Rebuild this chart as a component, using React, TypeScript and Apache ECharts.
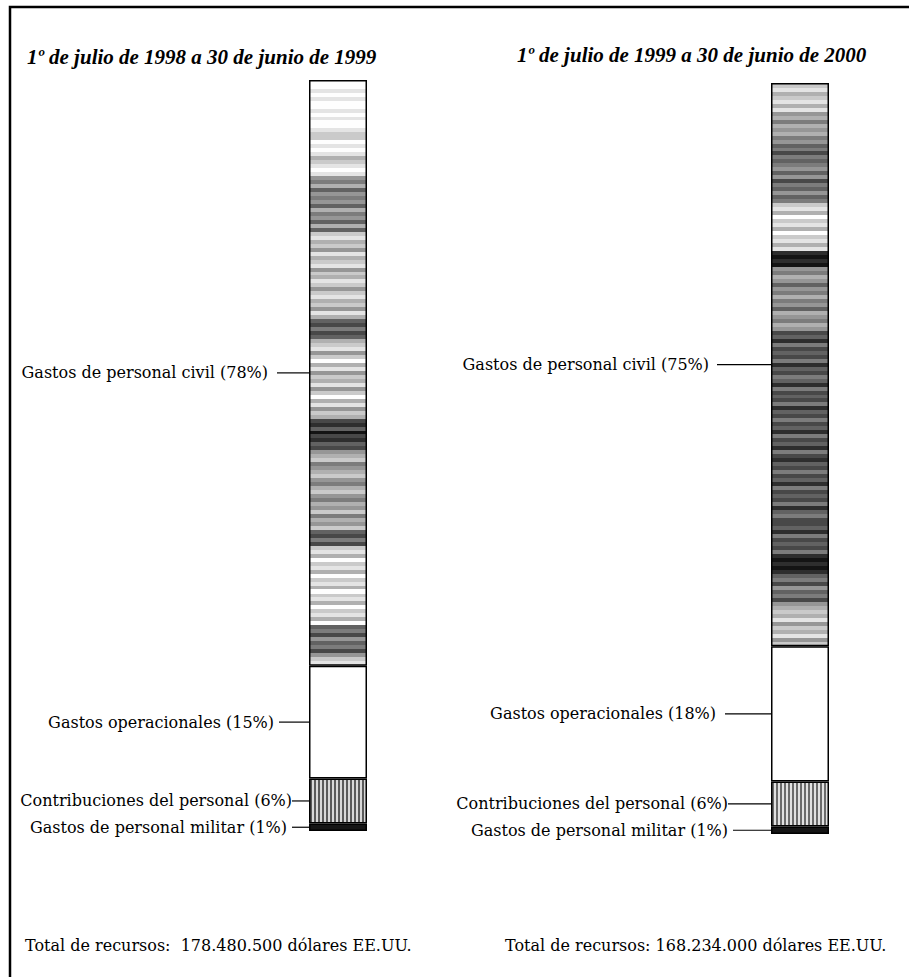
import React, { useEffect, useRef } from 'react';
import * as echarts from 'echarts';

const periods = [
  '1º de julio de 1998 a 30 de junio de 1999',
  '1º de julio de 1999 a 30 de junio de 2000',
];
// bottom to top
const segments = [
  'Gastos de personal militar',
  'Contribuciones del personal',
  'Gastos operacionales',
  'Gastos de personal civil',
];
const shares1998 = [1, 6, 15, 78];
const shares1999 = [1, 6, 18, 75];
const totals = ['Total de recursos:  178.480.500 dólares EE.UU.', 'Total de recursos: 168.234.000 dólares EE.UU.'];

// texture patterns (grey level per 4px row, 0 = black, 9 = white) – styling only
const tex1998 =
  '9989899898998' + '77989867898' + '54635453645363' + '7867586785768757867586' + '32423' +
  '67857968576857968576' + '21302132' + '56745675467546574657' + '3242' + '78697869786978697869' +
  '34253425' + '78';
const tex1999 =
  '7867868' + '56465645' + '34243' + '4535243534' + '786978697868' + '1010' + '5465354645365465' +
  '2314232413243142' + '3241324231423142' + '1324231423241342' + '231423241' + '0101' + '34253425' +
  '6768576857';

function bandGradient(pattern: string) {
  const stops: { offset: number; color: string }[] = [];
  const n = pattern.length;
  for (let i = 0; i < n; i++) {
    const lv = Number(pattern[i]);
    const g = Math.round(20 + lv * 26);
    const c = `rgb(${g},${g},${g})`;
    stops.push({ offset: i / n, color: c }, { offset: (i + 1) / n, color: c });
  }
  return new echarts.graphic.LinearGradient(0, 0, 0, 1, stops);
}

function stripeGradient(n: number, dark: string, light: string) {
  const stops: { offset: number; color: string }[] = [];
  for (let i = 0; i < n; i++) {
    const c = i % 2 === 0 ? dark : light;
    stops.push({ offset: i / n, color: c }, { offset: (i + 1) / n, color: c });
  }
  return new echarts.graphic.LinearGradient(0, 0, 1, 0, stops);
}

export default function App() {
  const ref = useRef<HTMLDivElement>(null);
  useEffect(() => {
    document.body.style.margin = '0';
    const chart = echarts.init(ref.current!, null, { renderer: 'svg' });
    const shares = [shares1998, shares1999];
    const fills = [
      ['#151515', stripeGradient(28, '#5a5a5a', '#d8d8d8'), '#ffffff', bandGradient(tex1998)],
      ['#151515', stripeGradient(28, '#6a6a6a', '#e0e0e0'), '#ffffff', bandGradient(tex1999)],
    ];
    const leaders = [
      [[5, 17], [0, 17], [5, 30], [9, 32]],
      [[5, 38], [0, 43], [9, 46], [8, 54]],
    ];
    const series: any[] = [];
    for (let p = 0; p < 2; p++) {
      for (let s = 0; s < segments.length; s++) {
        const v = shares[p][s];
        series.push({
          type: 'bar',
          name: segments[s],
          xAxisIndex: p,
          yAxisIndex: p,
          stack: 'p' + p,
          barWidth: '100%',
          data: [
            {
              value: v,
              itemStyle: { color: fills[p][s], borderColor: '#000', borderWidth: 1.5 },
              label: {
                show: true,
                position: 'left',
                distance: 0,
                formatter: `{t|${segments[s]} (${v}%)}{g| }{l| }`,
                rich: {
                  t: { fontFamily: 'DejaVu Serif', fontSize: 16, color: '#000' },
                  g: { width: leaders[p][s][0] },
                  l: { width: leaders[p][s][1], height: 1.2, backgroundColor: '#000' },
                },
              },
            },
          ],
        });
      }
    }
    chart.setOption({
      animation: false,
      grid: [
        { left: 309, top: 80, width: 58, height: 751 },
        { left: 771, top: 83, width: 58, height: 751 },
      ],
      xAxis: [
        { type: 'category', gridIndex: 0, data: [periods[0]], show: false },
        { type: 'category', gridIndex: 1, data: [periods[1]], show: false },
      ],
      yAxis: [
        { type: 'value', gridIndex: 0, min: 0, max: 100, show: false },
        { type: 'value', gridIndex: 1, min: 0, max: 100, show: false },
      ],
      series,
      graphic: [
        {
          type: 'polyline',
          shape: { points: [[10, 1000], [10, 7], [909, 7]] },
          style: { fill: 'none', stroke: '#000', lineWidth: 2.5 },
        },
        ...periods.map((t, i) => ({
          type: 'text',
          x: i === 0 ? 27 : 517,
          y: i === 0 ? 57 : 55,
          style: {
            text: t,
            fill: '#000',
            fontFamily: 'Liberation Serif',
            fontStyle: 'italic',
            fontWeight: 'bold',
            fontSize: 21,
            verticalAlign: 'middle',
            align: 'left',
          },
        })),
        ...totals.map((t, i) => ({
          type: 'text',
          x: i === 0 ? 25 : 505,
          y: 945,
          style: {
            text: t,
            fill: '#000',
            fontFamily: 'DejaVu Serif',
            fontSize: 16,
            verticalAlign: 'middle',
            align: 'left',
          },
        })),
      ],
    });
    return () => chart.dispose();
  }, []);
  return <div ref={ref} style={{ width: 909, height: 977 }} />;
}
